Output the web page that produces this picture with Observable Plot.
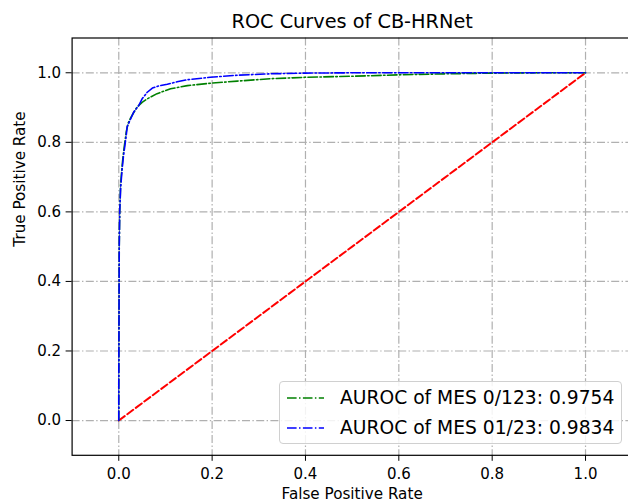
<!DOCTYPE html>
<html>
<head>
<meta charset="utf-8">
<script src="https://cdn.jsdelivr.net/npm/d3@7"></script>
<script src="https://cdn.jsdelivr.net/npm/@observablehq/plot@0.6"></script>
<style>
  html, body { margin: 0; padding: 0; background: #fff; overflow: hidden; }
  #wrap { position: relative; width: 628px; height: 502px; }
  #legend {
    position: absolute; left: 279px; top: 381px; width: 341px; height: 61px;
    border: 1px solid #d0d0d0; border-radius: 4px; background: rgba(255,255,255,0.85);
    font-family: "DejaVu Sans", sans-serif; font-size: 18.7px; color: #000;
  }
  .row { position: absolute; left: 0; height: 30px; width: 100%; }
  .row svg { position: absolute; left: 7px; top: 0; }
  .row span { position: absolute; left: 60px; top: 50%; transform: translateY(-50%); white-space: nowrap; line-height: 1; }
</style>
</head>
<body>
<div id="wrap"></div>
<script>
const titleText = "ROC Curves of CB-HRNet";
const xLabel = "False Positive Rate";
const yLabel = "True Positive Rate";
const xTicks = [0, 0.2, 0.4, 0.6, 0.8, 1.0];
const yTicks = [0, 0.2, 0.4, 0.6, 0.8, 1.0];

const seriesNames = ["AUROC of MES 0/123: 0.9754", "AUROC of MES 01/23: 0.9834"];
const seriesColors = ["#008000", "#0000ff"];

const greenFpr = [0, 0, 0.0005, 0.001, 0.002, 0.004, 0.007, 0.01, 0.013, 0.016, 0.02, 0.026, 0.033, 0.039, 0.05, 0.061, 0.082, 0.111, 0.147, 0.196, 0.254, 0.325, 0.4, 0.5, 0.6, 0.7, 0.8, 0.9, 1.0];
const greenTpr = [0, 0.1, 0.3, 0.5, 0.6, 0.68, 0.73, 0.77, 0.8, 0.83, 0.855, 0.872, 0.888, 0.901, 0.915, 0.925, 0.94, 0.954, 0.963, 0.970, 0.976, 0.983, 0.987, 0.990, 0.994, 0.997, 0.999, 1.0, 1.0];

const blueFpr = [0, 0, 0.0005, 0.001, 0.002, 0.004, 0.007, 0.01, 0.013, 0.016, 0.018, 0.024, 0.032, 0.043, 0.05, 0.061, 0.072, 0.085, 0.104, 0.125, 0.147, 0.196, 0.254, 0.325, 0.4, 0.5, 1.0];
const blueTpr = [0, 0.1, 0.3, 0.5, 0.6, 0.67, 0.72, 0.76, 0.79, 0.82, 0.845, 0.863, 0.887, 0.906, 0.925, 0.944, 0.956, 0.962, 0.967, 0.974, 0.980, 0.987, 0.993, 0.997, 0.999, 1.0, 1.0];

const diagFpr = [0, 1];
const diagTpr = [0, 1];

const green = greenFpr.map((x, i) => ({x, y: greenTpr[i]}));
const blue = blueFpr.map((x, i) => ({x, y: blueTpr[i]}));
const diag = diagFpr.map((x, i) => ({x, y: diagTpr[i]}));

const dashDot = "9.6,2.4,1.5,2.4";
const gridDash = "8,2.4,1.4,2.4";

const chart = Plot.plot({
  width: 628,
  height: 502,
  marginLeft: 71.6,
  marginRight: -3.7,
  marginTop: 37.5,
  marginBottom: 47.2,
  style: {fontFamily: "DejaVu Sans, sans-serif", fontSize: "15px", color: "#000", background: "#fff"},
  x: {domain: [-0.1, 1.1], label: null},
  y: {domain: [-0.1, 1.1], label: null},
  marks: [
    Plot.gridX(xTicks, {stroke: "#b0b0b0", strokeOpacity: 1, strokeWidth: 1.2, strokeDasharray: gridDash}),
    Plot.gridY(yTicks, {stroke: "#b0b0b0", strokeOpacity: 1, strokeWidth: 1.2, strokeDasharray: gridDash}),
    Plot.line(diag, {x: "x", y: "y", stroke: "#ff0000", strokeWidth: 2, strokeDasharray: "7.4,3.2"}),
    Plot.line(green, {x: "x", y: "y", stroke: seriesColors[0], strokeWidth: 1.6, strokeDasharray: dashDot}),
    Plot.line(blue, {x: "x", y: "y", stroke: seriesColors[1], strokeWidth: 1.6, strokeDasharray: dashDot}),
    Plot.frame({stroke: "#000", strokeWidth: 1.2}),
    Plot.axisX(xTicks, {tickSize: 6, tickPadding: 7, tickFormat: d => d.toFixed(1), label: null, fontSize: 15}),
    Plot.axisY(yTicks, {tickSize: 6, tickPadding: 5, tickFormat: d => d.toFixed(1), label: null, fontSize: 15}),
    Plot.text([titleText], {frameAnchor: "top", lineAnchor: "middle", dy: -16.5, fontSize: 19.3}),
    Plot.text([xLabel], {frameAnchor: "bottom", lineAnchor: "middle", dy: 38.5, fontSize: 15.2}),
    Plot.text([yLabel], {frameAnchor: "left", lineAnchor: "middle", rotate: -90, dx: -52, fontSize: 15.2})
  ]
});

const wrap = document.getElementById("wrap");
wrap.appendChild(chart);

const legend = document.createElement("div");
legend.id = "legend";
seriesNames.forEach((name, i) => {
  const row = document.createElement("div");
  row.className = "row";
  row.style.top = (1 + i * 30) + "px";
  row.innerHTML = `<svg width="40" height="30"><line x1="0" x2="37" y1="15" y2="15" stroke="${seriesColors[i]}" stroke-width="1.5" stroke-dasharray="${dashDot}"/></svg><span>${name}</span>`;
  legend.appendChild(row);
});
wrap.appendChild(legend);
</script>
</body>
</html>
